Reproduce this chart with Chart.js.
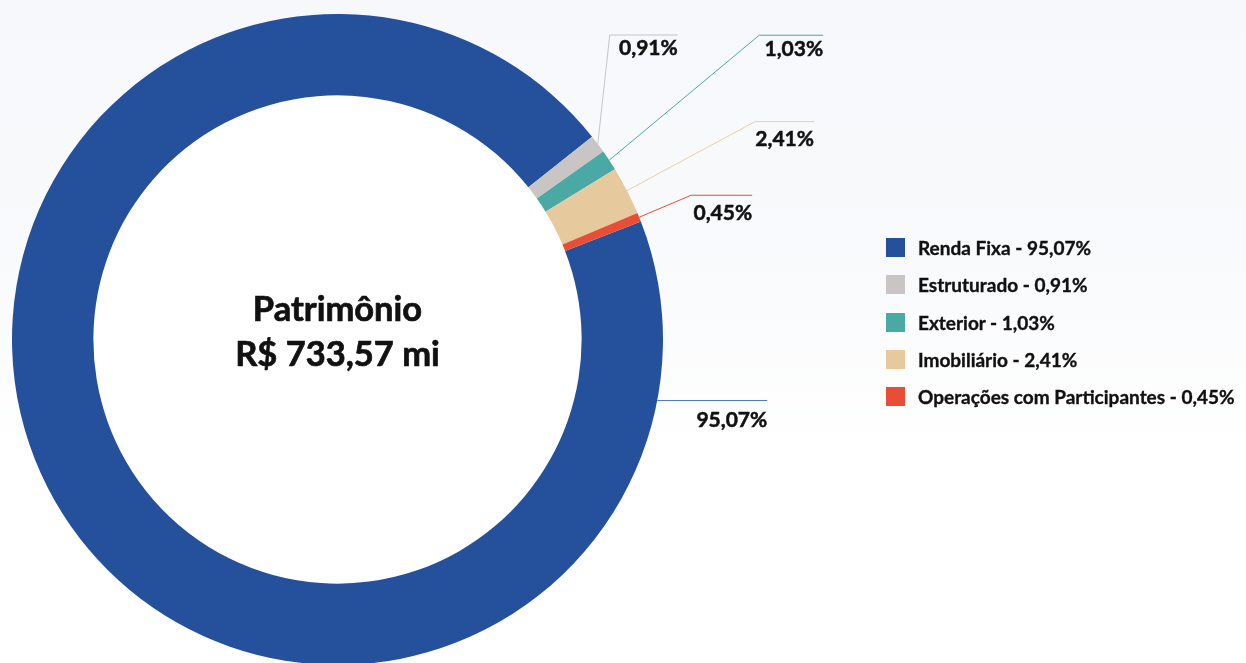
<!DOCTYPE html>
<html>
<head>
  <meta charset="UTF-8" />
  <title>Patrimônio</title>
  <script src="https://cdn.jsdelivr.net/npm/chart.js"></script>
  <style>
    html, body { margin: 0; padding: 0; width: 1246px; height: 663px; overflow: hidden; }
    body { background: linear-gradient(to bottom, #f6f8fb 0%, #f9fafc 40%, #ffffff 68%); font-family: Lato, sans-serif; }
    .wrap { position: absolute; left: 0; top: 0; width: 1246px; height: 680px; }
    #legend { position: absolute; left: 886px; top: 229px; list-style: none; margin: 0; padding: 0; }
    #legend li { display: flex; align-items: center; height: 37.3px; font-weight: bold; font-size: 19px; color: #111; white-space: nowrap; -webkit-text-stroke: 0.35px #111; }
    #legend .box { width: 19px; height: 19px; margin-right: 13px; flex: none; }
  </style>
</head>
<body>
  <div class="wrap"><canvas id="chart"></canvas></div>
  <ul id="legend"></ul>

  <script>
    // data
    const categories = ['Renda Fixa', 'Estruturado', 'Exterior', 'Imobiliário', 'Operações com Participantes'];
    const shares = [95.07, 0.91, 1.03, 2.41, 0.45];
    const centerLines = ['Patrimônio', 'R$ 733,57 mi'];

    // styles
    const sliceColors = ['#24509c', '#c9c5c5', '#4aa9a5', '#e6c99d', '#e84e35'];
    const lineColors = ['#5079c6', '#c8c4c4', '#4aa9a5', '#ebcfa5', '#e84c35'];
    // leader lines: anchor angle (deg, optional), elbow offset, horizontal length, text offset
    const labelLayout = [
      { angle: 10.8, dx: 0, dy: 0, len: 110, ty: 27 },
      { dx: 12, dy: -109, len: 68, ty: 20 },
      { dx: 150, dy: -125, len: 64, ty: 21 },
      { dx: 128, dy: -69, len: 59, ty: 24 },
      { dx: 52, dy: -22, len: 61, ty: 25 }
    ];

    const fmt = v => v.toFixed(2).replace('.', ',') + '%';

    document.getElementById('legend').innerHTML = categories.map((c, i) =>
      `<li><span class="box" style="background:${sliceColors[i]}"></span>${c} - ${fmt(shares[i])}</li>`
    ).join('');

    const boldText = (ctx, text, x, y) => {
      ctx.fillText(text, x, y);
      ctx.strokeText(text, x, y);
    };

    const innerFill = {
      id: 'innerFill',
      beforeDatasetsDraw(chart) {
        const arc = chart.getDatasetMeta(0).data[0];
        if (!arc) return;
        const ctx = chart.ctx;
        ctx.save();
        ctx.fillStyle = '#ffffff';
        ctx.beginPath();
        ctx.arc(arc.x, arc.y, arc.innerRadius, 0, Math.PI * 2);
        ctx.fill();
        ctx.restore();
      }
    };

    const leaderLabels = {
      id: 'leaderLabels',
      afterDatasetsDraw(chart) {
        const ctx = chart.ctx;
        const arcs = chart.getDatasetMeta(0).data;
        ctx.save();
        arcs.forEach((arc, i) => {
          const p = arc.getProps(['x', 'y', 'startAngle', 'endAngle', 'outerRadius'], true);
          const L = labelLayout[i];
          const a = L.angle !== undefined ? L.angle * Math.PI / 180 : (p.startAngle + p.endAngle) / 2;
          const ax = p.x + p.outerRadius * Math.cos(a);
          const ay = p.y + p.outerRadius * Math.sin(a);
          const ex = ax + L.dx, ey = ay + L.dy, hx = ex + L.len;
          ctx.strokeStyle = lineColors[i];
          ctx.lineWidth = 1;
          ctx.beginPath();
          ctx.moveTo(ax, ay);
          ctx.lineTo(ex, ey);
          ctx.lineTo(hx, ey);
          ctx.stroke();
          ctx.fillStyle = '#111';
          ctx.strokeStyle = '#111';
          ctx.lineWidth = 0.5;
          ctx.font = 'bold 21px Lato';
          ctx.textAlign = 'right';
          ctx.textBaseline = 'alphabetic';
          boldText(ctx, fmt(shares[i]), hx, ey + L.ty);
        });
        // centre text
        const c = arcs[0];
        ctx.fillStyle = '#111';
        ctx.strokeStyle = '#111';
        ctx.lineWidth = 0.7;
        ctx.font = 'bold 34.5px Lato';
        ctx.textAlign = 'center';
        boldText(ctx, centerLines[0], c.x, c.y - 19);
        boldText(ctx, centerLines[1], c.x, c.y + 26);
        ctx.restore();
      }
    };

    new Chart(document.getElementById('chart'), {
      type: 'doughnut',
      data: {
        labels: categories,
        datasets: [{
          data: shares,
          backgroundColor: sliceColors,
          borderWidth: 0,
          hoverOffset: 0,
          offset: 0
        }]
      },
      options: {
        responsive: true,
        maintainAspectRatio: false,
        animation: false,
        cutout: '75%',
        rotation: 68.75,
        layout: { padding: { left: 12, top: 14, right: 583, bottom: 15 } },
        plugins: {
          legend: { display: false },
          tooltip: { enabled: false }
        }
      },
      plugins: [innerFill, leaderLabels]
    });
  </script>
</body>
</html>
